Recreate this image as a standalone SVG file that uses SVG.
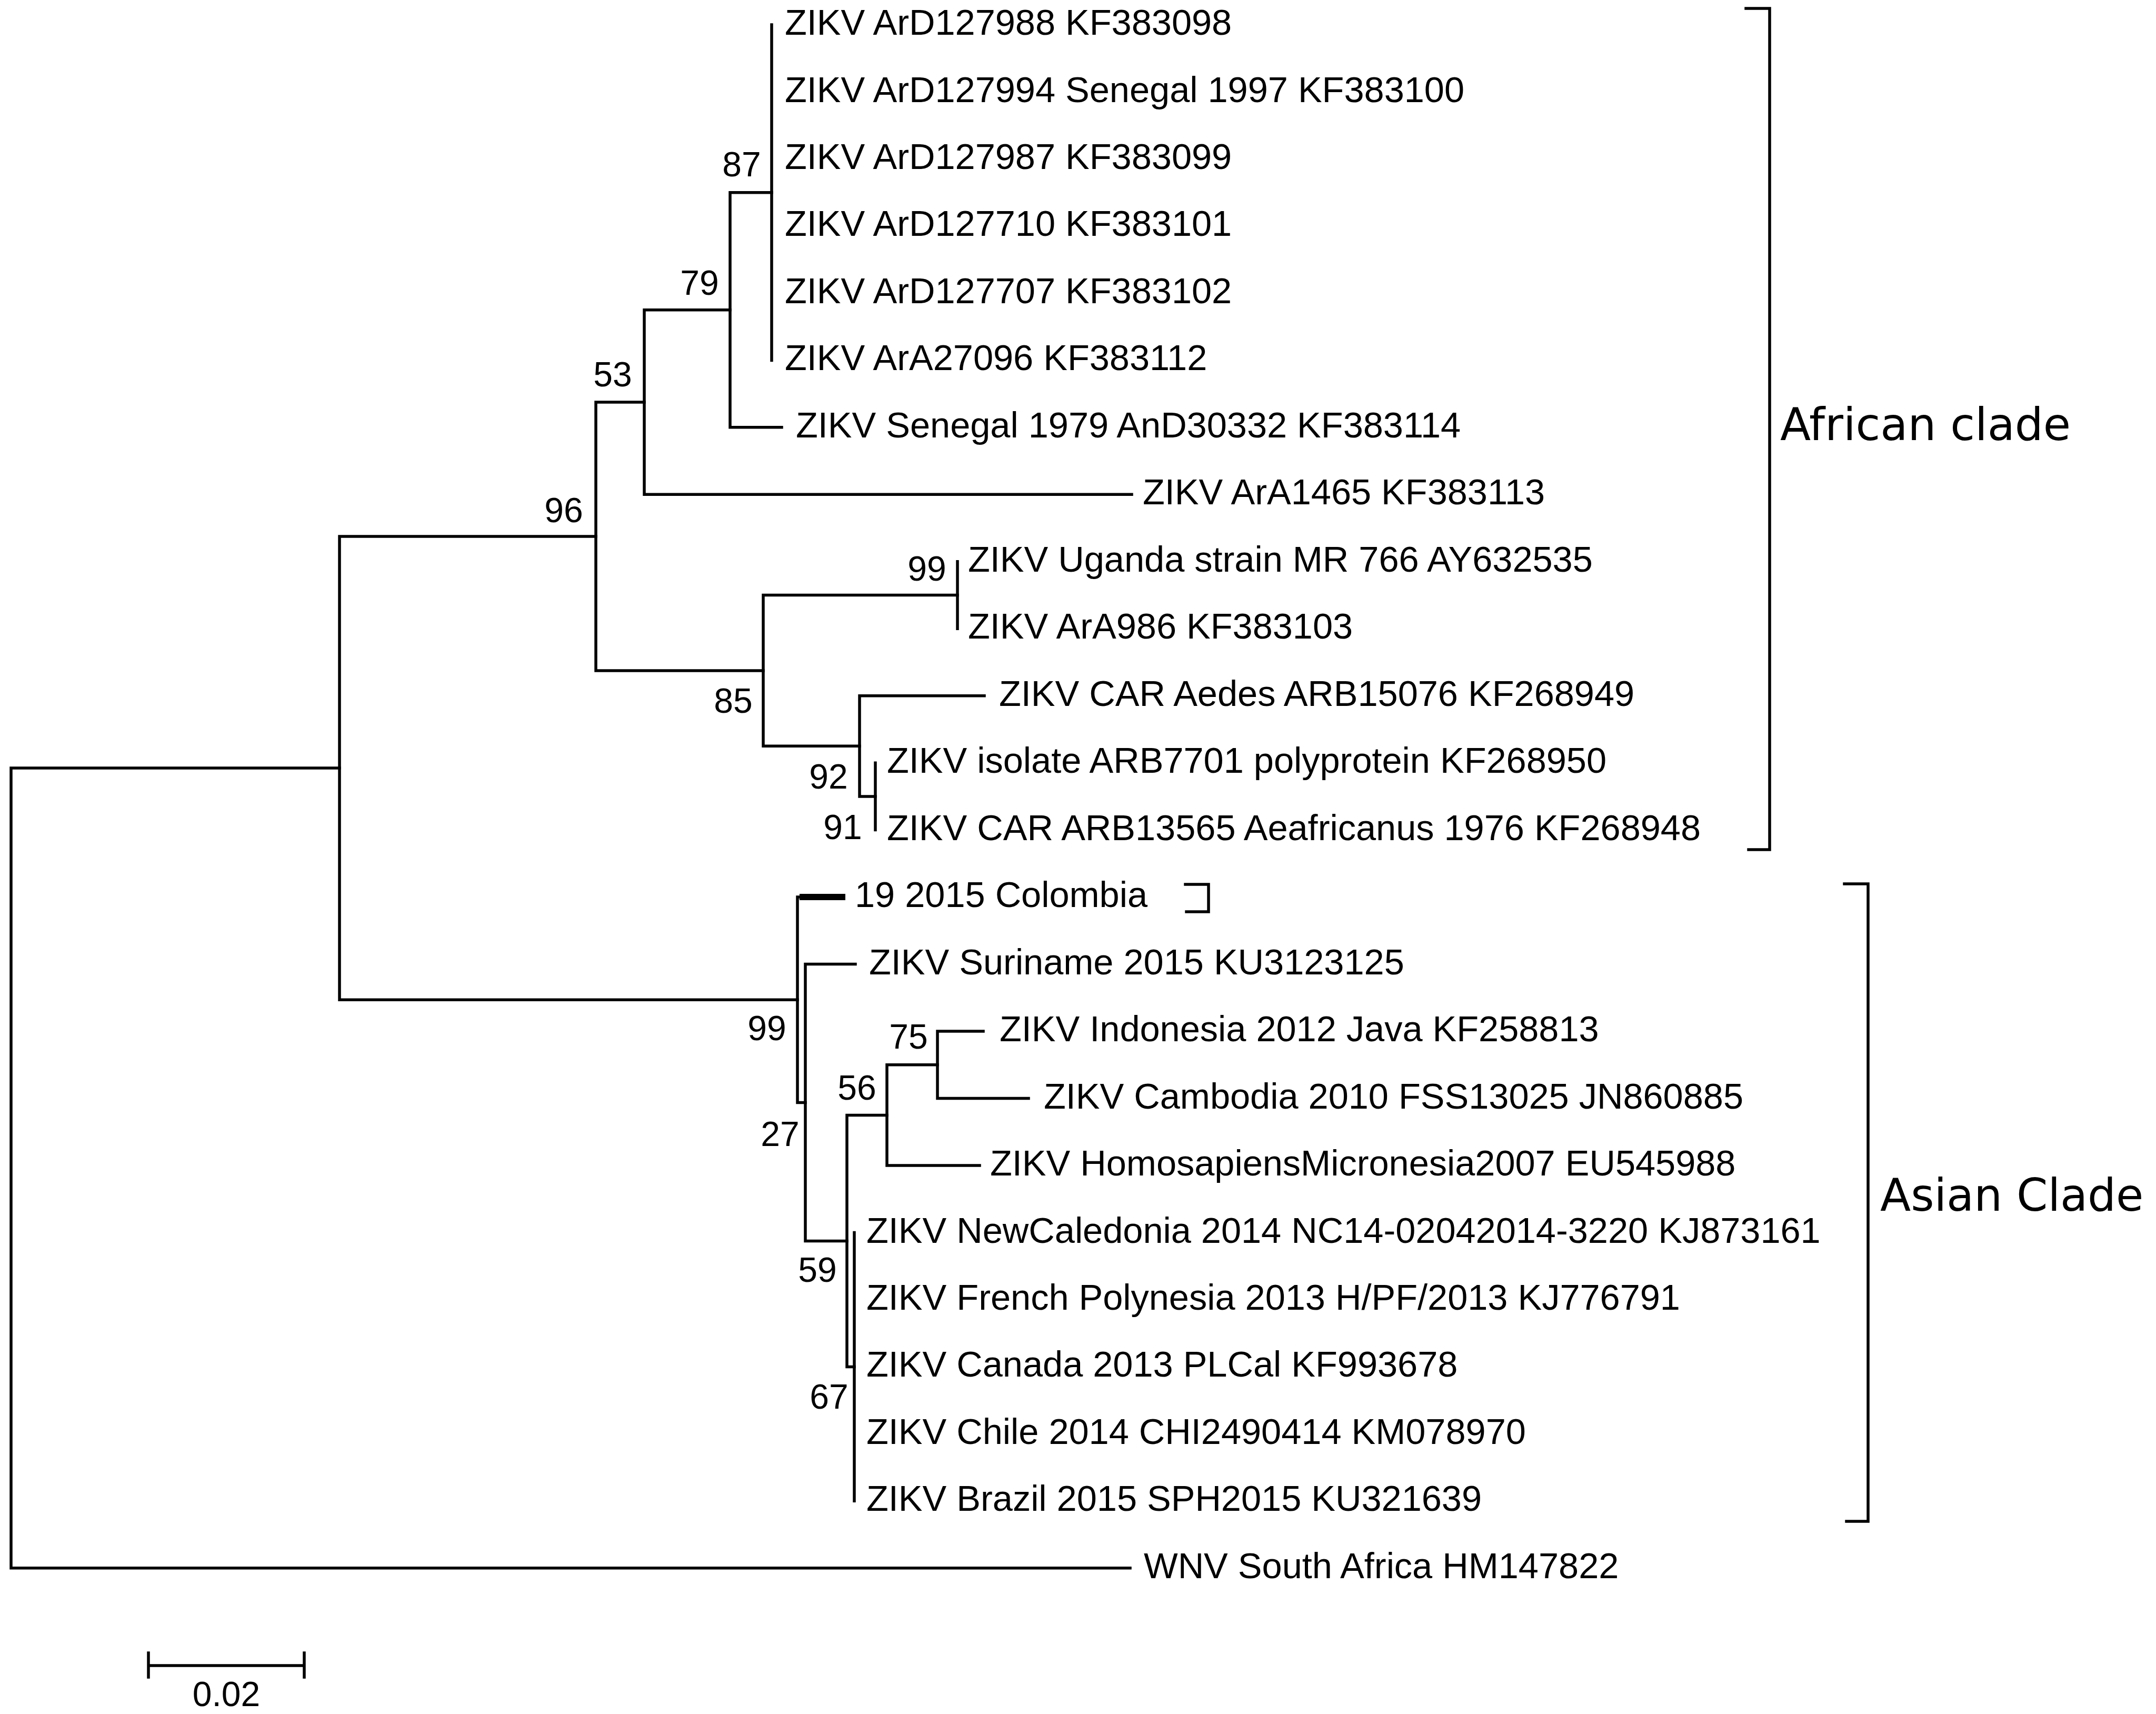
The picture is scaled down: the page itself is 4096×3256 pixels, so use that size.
<svg xmlns="http://www.w3.org/2000/svg" width="4096" height="3256" viewBox="0 0 4096 3256">
<style>
.br{stroke:#000;stroke-width:5.5;fill:none;stroke-linecap:square}
.thick{stroke:#000;stroke-width:12;fill:none}
.tip{font-family:"Liberation Sans",Arial,sans-serif;font-size:68.5px;fill:#000}
.bs{font-family:"Liberation Sans",Arial,sans-serif;font-size:66px;fill:#000;text-anchor:middle}
.clade{font-family:"DejaVu Sans","Liberation Sans",sans-serif;font-size:85px;fill:#000}
</style>
<rect width="4096" height="3256" fill="#fff"/>
<g id="connectors" class="br">
<path d="M21,1459 V2978.8 M21,1459 H645 M21,2978.8 H2147"/>
<path d="M645,1019 V1899.3 M645,1019 H1132 M645,1899.3 H1515"/>
<path d="M1132,764 V1273.9 M1132,764 H1224 M1132,1273.9 H1450"/>
<path d="M1224,588.8 V939.3 M1224,588.8 H1387 M1224,939.3 H2150"/>
<path d="M1387,365.7 V811.8 M1387,365.7 H1466 M1387,811.8 H1485"/>
<path d="M1466,47 V684.4"/>
<path d="M1450,1130.5 V1417.3 M1450,1130.5 H1819 M1450,1417.3 H1633"/>
<path d="M1819,1066.8 V1194.2"/>
<path d="M1633,1321.7 V1512.9 M1633,1321.7 H1870 M1633,1512.9 H1663"/>
<path d="M1663,1449.2 V1576.6"/>
<path d="M1515,1704.1 V2094.5 M1515,1704.1 H1525 M1515,2094.5 H1530"/>
<path class="thick" d="M1525,1704.1 H1600"/>
<path d="M1530,1831.6 V2357.4 M1530,1831.6 H1625 M1530,2357.4 H1609"/>
<path d="M1609,2118.4 V2596.4 M1609,2118.4 H1685 M1609,2596.4 H1623"/>
<path d="M1685,2022.8 V2214 M1685,2022.8 H1781 M1685,2214 H1861"/>
<path d="M1781,1959.1 V2086.5 M1781,1959.1 H1868 M1781,2086.5 H1954"/>
<path d="M1623,2341.5 V2851.3"/>
</g>
<g id="bootstrap">
<text class="bs" x="1409" y="335">87</text>
<text class="bs" x="1329" y="560">79</text>
<text class="bs" x="1164" y="734">53</text>
<text class="bs" x="1071" y="992">96</text>
<text class="bs" x="1761" y="1103">99</text>
<text class="bs" x="1393" y="1354">85</text>
<text class="bs" x="1574" y="1498">92</text>
<text class="bs" x="1601" y="1594">91</text>
<text class="bs" x="1457" y="1976">99</text>
<text class="bs" x="1482" y="2177">27</text>
<text class="bs" x="1726" y="1992">75</text>
<text class="bs" x="1628" y="2089">56</text>
<text class="bs" x="1553" y="2435">59</text>
<text class="bs" x="1575" y="2676">67</text>
</g>
<g id="tips" class="tip">
<g id="t0"><text x="1491" y="66">ZIKV ArD127988 KF383098</text></g>
<g id="t1"><text x="1491" y="193.5">ZIKV ArD127994 Senegal 1997 KF383100</text></g>
<g id="t2"><text x="1491" y="321">ZIKV ArD127987 KF383099</text></g>
<g id="t3"><text x="1491" y="448.4">ZIKV ArD127710 KF383101</text></g>
<g id="t4"><text x="1491" y="575.9">ZIKV ArD127707 KF383102</text></g>
<g id="t5"><text x="1491" y="703.4">ZIKV ArA27096 KF383112</text></g>
<g id="t6"><text x="1512" y="830.8">ZIKV Senegal 1979 AnD30332 KF383114</text></g>
<g id="t7"><text x="2171" y="958.3">ZIKV ArA1465 KF383113</text></g>
<g id="t8"><text x="1839" y="1085.8">ZIKV Uganda strain MR 766 AY632535</text></g>
<g id="t9"><text x="1839" y="1213.2">ZIKV ArA986 KF383103</text></g>
<g id="t10"><text x="1898" y="1340.7">ZIKV CAR Aedes ARB15076 KF268949</text></g>
<g id="t11"><text x="1685" y="1468.2">ZIKV isolate ARB7701 polyprotein KF268950</text></g>
<g id="t12"><text x="1685" y="1595.6">ZIKV CAR ARB13565 Aeafricanus 1976 KF268948</text></g>
<g id="t13"><text x="1624" y="1723.1">19 2015 Colombia</text></g>
<g id="t14"><text x="1651" y="1850.6">ZIKV Suriname 2015 KU3123125</text></g>
<g id="t15"><text x="1899" y="1978.1">ZIKV Indonesia 2012 Java KF258813</text></g>
<g id="t16"><text x="1983" y="2105.5">ZIKV Cambodia 2010 FSS13025 JN860885</text></g>
<g id="t17"><text x="1881" y="2233">ZIKV HomosapiensMicronesia2007 EU545988</text></g>
<g id="t18"><text x="1646" y="2360.5">ZIKV NewCaledonia 2014 NC14-02042014-3220 KJ873161</text></g>
<g id="t19"><text x="1646" y="2487.9">ZIKV French Polynesia 2013 H/PF/2013 KJ776791</text></g>
<g id="t20"><text x="1646" y="2615.4">ZIKV Canada 2013 PLCal KF993678</text></g>
<g id="t21"><text x="1646" y="2742.9">ZIKV Chile 2014 CHI2490414 KM078970</text></g>
<g id="t22"><text x="1646" y="2870.3">ZIKV Brazil 2015 SPH2015 KU321639</text></g>
<g id="t23"><text x="2173" y="2997.8">WNV South Africa HM147822</text></g>
</g>
<g id="african-clade">
<path class="br" d="M3317,16 H3362 V1614 H3322"/>
<text class="clade" x="3382" y="836">African clade</text>
</g>
<g id="asian-clade">
<path class="br" d="M3504,1679 H3549 V2890 H3508"/>
<text class="clade" x="3572" y="2300">Asian Clade</text>
</g>
<g id="colombia-bracket">
<path class="br" d="M2252,1680 H2296 V1732 H2254"/>
</g>
<g id="scale-bar">
<path class="br" d="M282,3164 H578 M282,3140 V3186 M578,3140 V3186"/>
<text class="bs" x="430" y="3241">0.02</text>
</g>
</svg>
